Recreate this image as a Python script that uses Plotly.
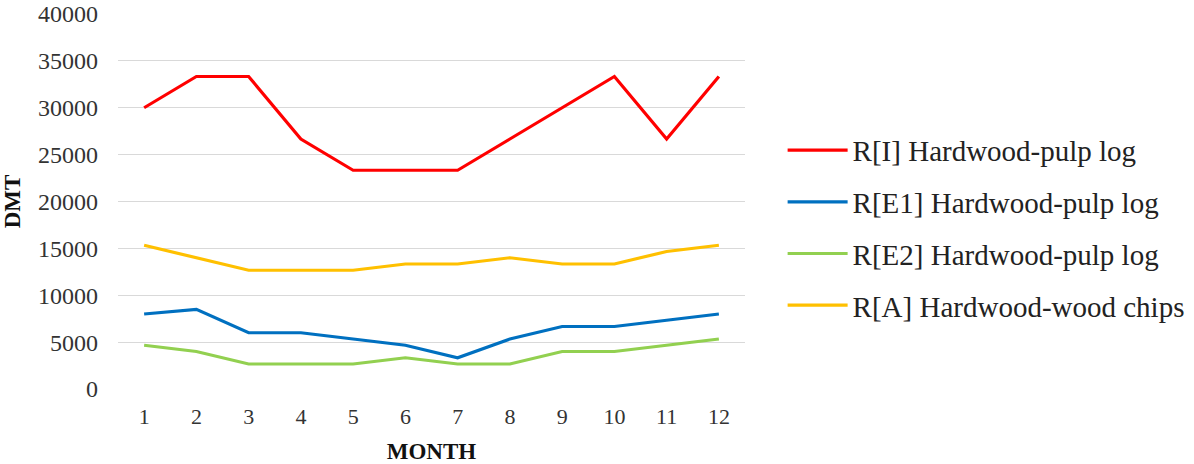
import plotly.graph_objects as go

months = [str(m) for m in range(1, 13)]
series_names = [
    "R[I] Hardwood-pulp log",
    "R[E1] Hardwood-pulp log",
    "R[E2] Hardwood-pulp log",
    "R[A] Hardwood-wood chips",
]
r_i = [30000, 33333, 33333, 26667, 23333, 23333, 23333, 26667, 30000, 33333, 26667, 33333]
r_e1 = [8000, 8500, 6000, 6000, 5333, 4667, 3333, 5333, 6667, 6667, 7333, 8000]
r_e2 = [4667, 4000, 2667, 2667, 2667, 3333, 2667, 2667, 4000, 4000, 4667, 5333]
r_a = [15333, 14000, 12667, 12667, 12667, 13333, 13333, 14000, 13333, 13333, 14667, 15333]
y_ticks = [0, 5000, 10000, 15000, 20000, 25000, 30000, 35000, 40000]

colors = ["#FF0000", "#0070C0", "#92D050", "#FFC000"]
font = "Liberation Serif, Times New Roman, serif"

fig = go.Figure()
for i, (name, vals) in enumerate(zip(series_names, [r_i, r_e1, r_e2, r_a])):
    fig.add_trace(go.Scatter(
        x=months, y=vals, name=name, mode="lines",
        line=dict(color=colors[i], width=3.2),
        legendgroup=f"g{i}",
    ))

fig.update_layout(
    width=1194, height=464,
    margin=dict(l=118, r=449, t=14, b=75, autoexpand=False),
    paper_bgcolor="white", plot_bgcolor="white",
    font=dict(family=font, size=22, color="#333333"),
    showlegend=True,
    legend=dict(
        x=1.06, xanchor="left", y=0.43, yanchor="middle",
        font=dict(family=font, size=29, color="#222222"),
        tracegroupgap=11, itemwidth=60,
        bgcolor="rgba(0,0,0,0)",
    ),
    xaxis=dict(
        type="category", range=[-0.5, 11.5],
        title=dict(text="<b>MONTH</b>", font=dict(family=font, size=23, color="#111111"), standoff=16),
        showgrid=False, showline=False, ticks="",
        tickfont=dict(family=font, size=22, color="#333333"),
        ticklabelstandoff=12,
    ),
    yaxis=dict(
        range=[0, 40000], tickvals=y_ticks, ticktext=[str(v) for v in y_ticks],
        showgrid=True, gridcolor="#D9D9D9", gridwidth=1.3,
        zeroline=False, showline=False, ticks="",
        tickfont=dict(family=font, size=24, color="#333333"),
        ticklabelstandoff=19,
        title=dict(text="<b>DMT</b>", font=dict(family=font, size=23, color="#111111"), standoff=12),
    ),
)

fig.write_html("out.html")
